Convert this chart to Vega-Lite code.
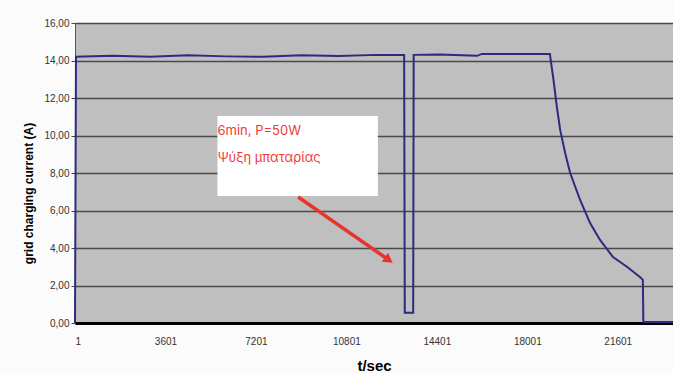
{
  "$schema": "https://vega.github.io/schema/vega-lite/v6.json",
  "width": 598,
  "height": 300,
  "autosize": "none",
  "padding": {"left": 75, "top": 23, "right": 0, "bottom": 50},
  "background": "#fbfbfb",
  "config": {
    "view": {"fill": "#bfbfbf", "stroke": "#9a9a9a"},
    "font": "Liberation Sans"
  },
  "datasets": {
    "current": [
      {"t": 1, "a": 0},
      {"t": 40, "a": 14.2},
      {"t": 1500, "a": 14.25},
      {"t": 3000, "a": 14.2},
      {"t": 4500, "a": 14.28},
      {"t": 6000, "a": 14.22},
      {"t": 7500, "a": 14.2},
      {"t": 9000, "a": 14.28},
      {"t": 10500, "a": 14.24},
      {"t": 12000, "a": 14.3},
      {"t": 13100, "a": 14.3},
      {"t": 13125, "a": 0.55},
      {"t": 13460, "a": 0.55},
      {"t": 13480, "a": 14.3},
      {"t": 14500, "a": 14.32},
      {"t": 16000, "a": 14.25},
      {"t": 16200, "a": 14.35},
      {"t": 17500, "a": 14.35},
      {"t": 18900, "a": 14.35},
      {"t": 19045, "a": 12.96},
      {"t": 19180, "a": 11.5},
      {"t": 19310, "a": 10.3},
      {"t": 19508, "a": 9.07},
      {"t": 19707, "a": 8.0},
      {"t": 20103, "a": 6.56},
      {"t": 20500, "a": 5.33},
      {"t": 20896, "a": 4.43},
      {"t": 21412, "a": 3.52},
      {"t": 21967, "a": 3.0},
      {"t": 22482, "a": 2.45},
      {"t": 22600, "a": 2.3},
      {"t": 22620, "a": 0.05},
      {"t": 23800, "a": 0.05}
    ],
    "box": [{"t1": 5670, "t2": 12054, "a1": 11.04, "a2": 6.77}],
    "labels": [
      {"t": 5670, "a": 10.24, "txt": "6min, P=50W"},
      {"t": 5670, "a": 8.8, "txt": "Ψύξη μπαταρίας"}
    ],
    "arrow": [{"t1": 8882, "a1": 6.72, "t2": 12490, "a2": 3.36}]
  },
  "encoding": {
    "x": {
      "type": "quantitative",
      "scale": {"domain": [1, 23800], "nice": false, "zero": false},
      "axis": {
        "title": "t/sec",
        "titleFontSize": 15,
        "titleFontWeight": "bold",
        "titleColor": "#000",
        "titlePadding": 12,
        "values": [1, 3601, 7201, 10801, 14401, 18001, 21601],
        "format": "d",
        "labelFontSize": 10,
        "labelColor": "#333",
        "labelPadding": 13,
        "ticks": false,
        "grid": false,
        "domainColor": "#000",
        "domainWidth": 3
      }
    },
    "y": {
      "type": "quantitative",
      "scale": {"domain": [0, 16], "nice": false},
      "axis": {
        "title": "grid charging current (A)",
        "titleFontSize": 12,
        "titleFontWeight": "bold",
        "titleColor": "#000",
        "titlePadding": 8,
        "titleY": 170,
        "values": [0, 2, 4, 6, 8, 10, 12, 14, 16],
        "labelExpr": "replace(format(datum.value, '.2f'), '.', ',')",
        "labelFontSize": 10,
        "labelColor": "#333",
        "tickColor": "#444",
        "tickSize": 4,
        "domainColor": "#555",
        "grid": true,
        "gridColor": "#4a4a4a",
        "gridWidth": 1.5
      }
    }
  },
  "layer": [
    {
      "data": {"name": "current"},
      "mark": {"type": "line", "color": "#2b2b80", "strokeWidth": 2},
      "encoding": {"x": {"field": "t"}, "y": {"field": "a"}}
    },
    {
      "data": {"name": "box"},
      "mark": {"type": "rect", "fill": "#ffffff"},
      "encoding": {
        "x": {"field": "t1"}, "x2": {"field": "t2"},
        "y": {"field": "a1"}, "y2": {"field": "a2"}
      }
    },
    {
      "data": {"name": "labels"},
      "mark": {"type": "text", "align": "left", "baseline": "middle", "color": "#f03a3a", "fontSize": 13, "font": "Inter"},
      "encoding": {"x": {"field": "t"}, "y": {"field": "a"}, "text": {"field": "txt"}}
    },
    {
      "data": {"name": "arrow"},
      "mark": {"type": "rule", "color": "#e8342c", "strokeWidth": 3.5},
      "encoding": {
        "x": {"field": "t1"}, "x2": {"field": "t2"},
        "y": {"field": "a1"}, "y2": {"field": "a2"}
      }
    },
    {
      "data": {"name": "arrow"},
      "mark": {"type": "point", "shape": "triangle-right", "filled": true, "color": "#e8342c", "opacity": 1, "size": 120, "angle": 35},
      "encoding": {"x": {"field": "t2"}, "y": {"field": "a2"}}
    }
  ]
}
